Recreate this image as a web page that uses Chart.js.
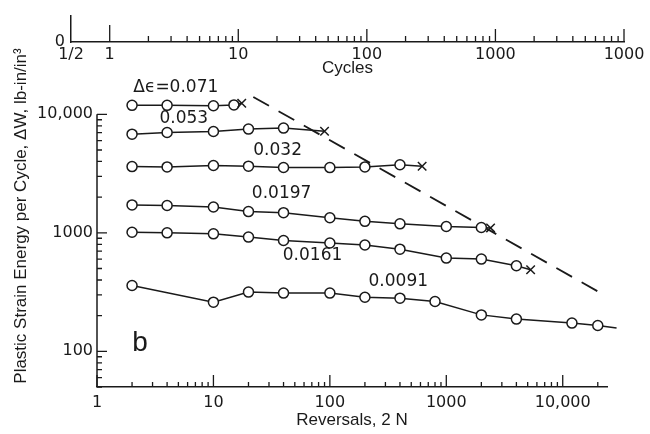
<!DOCTYPE html>
<html>
<head>
<meta charset="utf-8">
<script src="https://cdn.jsdelivr.net/npm/chart.js@4.4.1/dist/chart.umd.min.js"></script>
<style>
  body { margin: 0; background: #fff; }
  #wrap { position: relative; width: 650px; height: 434px; }
  canvas { position: absolute; left: 0; top: 0; }
</style>
</head>
<body>
<div id="wrap">
  <canvas id="mainCanv" width="650" height="434"></canvas>
  <canvas id="topCanv" width="650" height="90"></canvas>
</div>
<script>
// reversals (2N) and plastic strain energy per cycle for each strain range
const x071 = [2, 4, 10, 15];
const y071 = [11900, 11900, 11800, 12000];
const x053 = [2, 4, 10, 20, 40];
const y053 = [6800, 7030, 7160, 7500, 7650];
const x032 = [2, 4, 10, 20, 40, 100, 200, 400];
const y032 = [3620, 3600, 3700, 3650, 3560, 3550, 3600, 3750];
const x0197 = [2, 4, 10, 20, 40, 100, 200, 400, 1000, 2000];
const y0197 = [1720, 1700, 1650, 1510, 1480, 1340, 1250, 1190, 1130, 1110];
const x0161 = [2, 4, 10, 20, 40, 100, 200, 400, 1000, 2000, 4000];
const y0161 = [1010, 1000, 980, 920, 862, 820, 790, 728, 612, 600, 527];
const x0091 = [2, 10, 20, 40, 100, 200, 400, 800, 2000, 4000, 12000, 20000];
const y0091 = [359, 260, 316, 310, 310, 286, 281, 263, 203, 187, 173, 165];

// failure points (x marks), one per series except the runout
const failX = [17.5, 90, 620, 2400, 5300];
const failY = [12400, 7200, 3650, 1100, 488];
// runout arrow end for 0.0091
const runX = 29000;
const runY = 157;

// dashed limit line
const limitX = [22, 21000];
const limitY = [14000, 312];

const strainText = ["\u0394\u03f5=0.071", "0.053", "0.032", "0.0197", "0.0161", "0.0091"];
const labelX = [4.75, 5.56, 35.6, 38.5, 71, 387];
const labelY = [16750, 9160, 4920, 2133, 640, 385];
const panelAt = [2.34, 116];

const xTicks = [1, 10, 100, 1000, 10000];
const xTickLabels = ["1", "10", "100", "1000", "10,000"];
const yTicks = [100, 1000, 10000];
const yTickLabels = ["100", "1000", "10,000"];
const cycTicks = [0.5, 1, 10, 100, 1000, 10000];
const cycTickLabels = ["1/2", "1", "10", "100", "1000", "1000"];

const yTitle = "Plastic Strain Energy per Cycle, \u0394W, lb-in/in\u00b3";

const INK = "#1a1a1a";
const NUM_FONT = "'DejaVu Sans', sans-serif";
const TXT_FONT = "'Liberation Sans', Arial, sans-serif";

function minors(lo, hi) {
  const out = [];
  for (let d = lo; d < hi; d *= 10) for (let m = 2; m <= 9; m++) out.push(m * d);
  return out;
}

// arrowhead image for the runout point, tip at centre
const arrowImg = document.createElement("canvas");
arrowImg.width = 18; arrowImg.height = 18;
(function () {
  const c = arrowImg.getContext("2d");
  c.strokeStyle = INK; c.lineWidth = 1.5;
  c.beginPath();
  c.moveTo(2, 5); c.lineTo(9, 9); c.lineTo(2, 13);
  c.stroke();
})();

function series(xs, ys, k, tail) {
  const data = xs.map((x, i) => ({ x: x, y: ys[i] }));
  const style = xs.map(() => "circle");
  const rad = xs.map(() => 5);
  if (tail === "fail") {
    data.push({ x: failX[k], y: failY[k] });
    style.push("crossRot");
    rad.push(6);
  } else if (tail === "run") {
    data.push({ x: runX, y: runY });
    style.push(arrowImg);
    rad.push(0.01);
  }
  return {
    data: data,
    showLine: true,
    borderColor: INK,
    borderWidth: 1.5,
    pointStyle: style,
    pointRadius: rad,
    pointBackgroundColor: "#fff",
    pointBorderColor: INK,
    pointBorderWidth: 1.5,
    tension: 0,
    clip: false
  };
}

const inTicks = {
  id: "inTicks",
  afterDraw(chart, args, o) {
    const ctx = chart.ctx;
    const a = chart.chartArea;
    ctx.save();
    ctx.strokeStyle = INK;
    if (o.yLineFrom) {
      // left axis line only runs from the top tick down
      ctx.lineWidth = 1.5;
      ctx.beginPath();
      ctx.moveTo(a.left, chart.scales.y.getPixelForValue(o.yLineFrom));
      ctx.lineTo(a.left, a.bottom);
      ctx.stroke();
    }
    ctx.lineWidth = 1.3;
    ctx.beginPath();
    for (const t of o.marks) {
      const s = chart.scales[t.axis];
      for (const v of t.values) {
        if (v < s.min || v > s.max) continue;
        const p = s.getPixelForValue(v);
        if (s.isHorizontal()) {
          ctx.moveTo(p, a.bottom); ctx.lineTo(p, a.bottom - t.len);
        } else {
          ctx.moveTo(a.left, p); ctx.lineTo(a.left + t.len, p);
        }
      }
    }
    ctx.stroke();
    ctx.restore();
  }
};

const notes = {
  id: "notes",
  afterDatasetsDraw(chart) {
    const { ctx, scales: { x, y } } = chart;
    ctx.save();
    ctx.fillStyle = INK;
    ctx.textAlign = "center";
    ctx.textBaseline = "middle";
    ctx.font = "17px " + NUM_FONT;
    strainText.forEach((t, i) => {
      ctx.fillText(t, x.getPixelForValue(labelX[i]), y.getPixelForValue(labelY[i]));
    });
    ctx.font = "28px " + TXT_FONT;
    ctx.fillText("b", x.getPixelForValue(panelAt[0]), y.getPixelForValue(panelAt[1]));
    ctx.translate(21, 216);
    ctx.rotate(-Math.PI / 2);
    ctx.font = "17px " + TXT_FONT;
    ctx.fillText(yTitle, 0, 0);
    ctx.restore();
  }
};

new Chart(document.getElementById("mainCanv"), {
  type: "scatter",
  data: {
    datasets: [
      series(x071, y071, 0, "fail"),
      series(x053, y053, 1, "fail"),
      series(x032, y032, 2, "fail"),
      series(x0197, y0197, 3, "fail"),
      series(x0161, y0161, 4, "fail"),
      series(x0091, y0091, 5, "run"),
      {
        data: limitX.map((x, i) => ({ x: x, y: limitY[i] })),
        showLine: true,
        borderColor: INK,
        borderWidth: 1.8,
        borderDash: [18, 11],
        pointRadius: 0,
        clip: false
      }
    ]
  },
  options: {
    responsive: false,
    animation: false,
    devicePixelRatio: 1,
    layout: { padding: { top: 87, right: 43, bottom: 0, left: 0 } },
    plugins: {
      legend: { display: false },
      tooltip: { enabled: false },
      inTicks: {
        yLineFrom: 10000,
        marks: [
          { axis: "x", values: xTicks, len: 12 },
          { axis: "x", values: minors(1, 100000), len: 5 },
          { axis: "y", values: yTicks, len: 10 },
          { axis: "y", values: minors(10, 10000), len: 5 }
        ]
      }
    },
    scales: {
      x: {
        type: "logarithmic",
        min: 1,
        max: 24000,
        afterFit: s => { s.height = 47; },
        afterBuildTicks: s => { s.ticks = xTicks.map(v => ({ value: v })); },
        grid: { display: false, drawTicks: false },
        border: { display: true, color: INK, width: 1.5 },
        ticks: {
          autoSkip: false,
          maxRotation: 0,
          padding: 6,
          color: INK,
          font: { family: NUM_FONT, size: 16 },
          callback: (v, i) => xTickLabels[i]
        },
        title: {
          display: true,
          text: "Reversals, 2 N",
          color: INK,
          font: { family: TXT_FONT, size: 17 },
          padding: { top: 0, bottom: 3 }
        }
      },
      y: {
        type: "logarithmic",
        min: 50,
        max: 17000,
        afterFit: s => { s.width = 97; },
        afterBuildTicks: s => { s.ticks = yTicks.map(v => ({ value: v })); },
        grid: { display: false, drawTicks: false },
        border: { display: false },
        ticks: {
          autoSkip: false,
          padding: 4,
          color: INK,
          font: { family: NUM_FONT, size: 16 },
          callback: (v, i) => yTickLabels[i]
        }
      }
    }
  },
  plugins: [inTicks, notes]
});

// cycles strip along the top
new Chart(document.getElementById("topCanv"), {
  type: "scatter",
  data: { datasets: [] },
  options: {
    responsive: false,
    animation: false,
    devicePixelRatio: 1,
    layout: { padding: { top: 9, right: 26, bottom: 0, left: 0 } },
    plugins: {
      legend: { display: false },
      tooltip: { enabled: false },
      inTicks: {
        marks: [
          { axis: "x", values: [1], len: 17 },
          { axis: "x", values: [10, 100, 1000, 10000], len: 13 },
          { axis: "x", values: minors(1, 10000), len: 6 }
        ]
      }
    },
    scales: {
      x: {
        type: "logarithmic",
        min: 0.5,
        max: 10000,
        afterFit: s => { s.height = 48; },
        afterBuildTicks: s => { s.ticks = cycTicks.map(v => ({ value: v })); },
        grid: { display: false, drawTicks: false },
        border: { display: true, color: INK, width: 1.5 },
        ticks: {
          autoSkip: false,
          maxRotation: 0,
          padding: 3,
          color: INK,
          font: { family: NUM_FONT, size: 16 },
          callback: (v, i) => cycTickLabels[i]
        },
        title: {
          display: true,
          text: "Cycles",
          color: INK,
          font: { family: TXT_FONT, size: 17 },
          padding: { top: 0, bottom: 11 }
        }
      },
      y: {
        type: "linear",
        min: 0,
        max: 1,
        afterFit: s => { s.width = 71; },
        afterBuildTicks: s => { s.ticks = [{ value: 0 }]; },
        grid: { display: false, drawTicks: false },
        border: { display: true, color: INK, width: 1.5 },
        ticks: {
          padding: 6,
          color: INK,
          font: { family: NUM_FONT, size: 16 },
          callback: () => "0"
        }
      }
    }
  },
  plugins: [inTicks]
});
</script>
</body>
</html>
